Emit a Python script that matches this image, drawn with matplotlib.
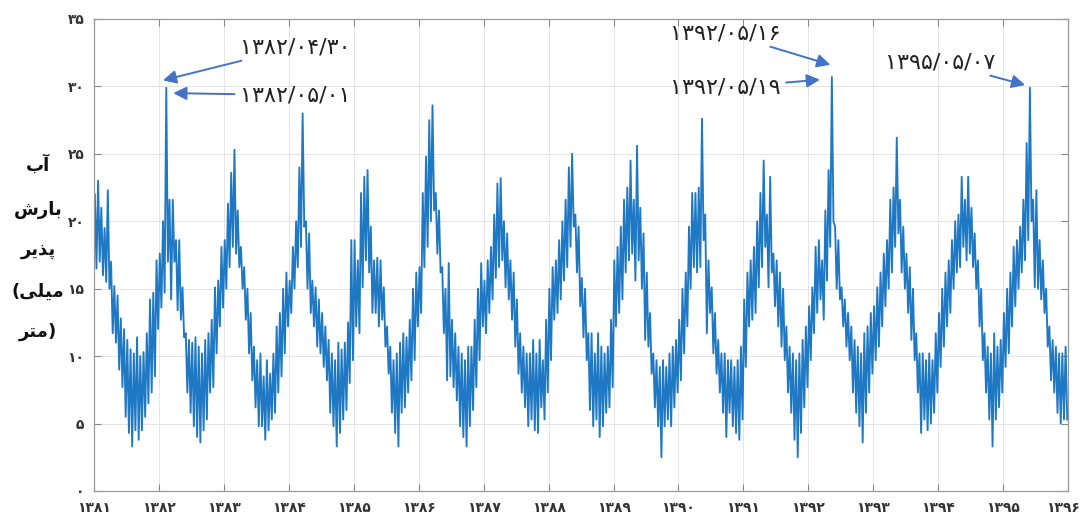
import numpy as np
import matplotlib
matplotlib.use('Agg')
import matplotlib.pyplot as plt
from matplotlib.transforms import ScaledTranslation

# Persian years on the x axis, 20 readings per year (upper / lower edge of the daily band)
years = list(range(1381, 1396))

upper = [
    [22, 23, 21, 19.5, 22.3, 17, 15.2, 14.5, 12.8, 12, 11.2, 10.5, 10.2, 11.4, 10, 10.3, 11.7, 14.2, 14.7, 17.1],      # 1381
    [17.6, 20, 29.9, 21.6, 21.6, 18.6, 18.6, 15.1, 11.7, 11.2, 11, 11.4, 10.7, 10.2, 11.2, 11.7, 12.7, 15.1, 15.6, 18.1],  # 1382
    [18.6, 21.3, 23.6, 25.3, 20.8, 18.1, 16.6, 15, 13.2, 10.7, 9.7, 10.2, 8.5, 9.7, 8.7, 10.2, 12.2, 13.2, 15, 16.2],      # 1383
    [15.6, 18.1, 20, 24, 28, 20, 19.1, 15.6, 15.1, 14.2, 13.2, 12.2, 11.2, 10.2, 9.7, 11, 10.5, 11, 12.5, 18.6],          # 1384
    [18.6, 17.1, 22.1, 23.3, 23.8, 19.6, 17.1, 17.3, 17.1, 15.1, 12.2, 10.7, 9.7, 10.2, 11, 11.7, 11.4, 12.7, 15, 16.2],  # 1385
    [16.6, 22.1, 24.8, 27.5, 28.6, 22.1, 20.8, 16.6, 15, 16.9, 12.7, 11.7, 10.7, 10.2, 9.7, 10.7, 10.7, 12.7, 15, 16.9],  # 1386
    [15.6, 17.1, 18.1, 20.5, 22.8, 23.2, 20, 19.1, 17.1, 16.2, 14.2, 11.7, 10.7, 10.2, 10.2, 11.2, 10.2, 11.2, 9.7, 12.7], # 1387
    [15, 16.6, 17.1, 18.6, 20, 21.6, 24, 25, 20.5, 19.6, 15.8, 15, 11.7, 11.7, 10.2, 11.7, 10.7, 10.2, 10.7, 12.7],       # 1388
    [17.1, 18.1, 19.6, 21.6, 22.5, 24.5, 21.6, 25.6, 21, 19.1, 16.2, 13.2, 10.2, 9.7, 9.2, 9.7, 9.2, 10.2, 10.7, 11.2],   # 1389
    [12.7, 15, 16.2, 19.6, 22.1, 22.1, 22.5, 27.6, 20.5, 17.1, 15.1, 13.2, 11.2, 10.2, 10.2, 9.7, 9.7, 9.2, 9.7, 10.7],   # 1390
    [14.2, 16.2, 17.1, 18.1, 20, 22.1, 24.5, 20.5, 23.3, 17.6, 17.1, 16.2, 15, 12.2, 10.7, 10.2, 9.7, 10.2, 11.2, 12.2],  # 1391
    [13.7, 15.1, 18.1, 18.6, 17.1, 20.8, 23.8, 30.7, 19.6, 18.6, 15.1, 14.2, 13.2, 12.2, 11.2, 10.7, 10.2, 11.7, 12.2, 13.2],  # 1392
    [13.7, 15.1, 16.2, 17.6, 18.6, 21.6, 22.5, 26.2, 21.6, 19.6, 17.6, 16.6, 15, 11.7, 10.2, 10.2, 9.7, 10.2, 9.7, 11.7], # 1393
    [13.2, 15, 16.2, 17.1, 18.6, 20, 20.5, 23.3, 21.6, 23.3, 21, 19.1, 17.1, 15, 11.7, 10.7, 10.2, 11.7, 10.7, 11.2],     # 1394
    [13.2, 15, 16.2, 18.1, 18.6, 19.6, 21.6, 25.8, 29.9, 21.6, 22.3, 18.6, 17.1, 15, 12.2, 11.2, 10.7, 10.2, 10.2, 10.7], # 1395
]

lower = [
    [16.5, 17, 16, 15.5, 15, 11.7, 11, 9, 7.7, 5.5, 4.3, 3.3, 4.5, 3.8, 4.5, 5.5, 6.5, 7.3, 8.5, 12],
    [13.6, 14.7, 17, 14.2, 17, 13.4, 12.7, 11.4, 7.3, 5.8, 4.8, 4, 3.6, 4.5, 5.3, 7.3, 7.7, 10.2, 12.2, 13.6],
    [15, 16.6, 18.1, 17.6, 16.6, 15, 12.7, 10.2, 8.2, 6.2, 4.8, 4.8, 3.8, 4.5, 5.3, 5.8, 7.3, 8.5, 10.2, 12.2],
    [13.2, 15, 16.6, 18.1, 19.6, 15, 13.2, 12.2, 10.7, 10.2, 9.2, 8.2, 5.8, 4.8, 3.3, 4.3, 5.3, 6, 8, 9.7],
    [12.2, 11.7, 15.1, 17.1, 16.2, 13.2, 13.2, 12.2, 12.7, 10.7, 8.7, 5.8, 4.3, 3.3, 5.8, 6.2, 7.3, 8.2, 9.7, 12.2],
    [13.2, 16.6, 18.1, 20, 20.8, 17.6, 16.2, 11.7, 8.2, 8.5, 7.7, 6.7, 4.8, 4, 3.3, 4.8, 6, 7.7, 9.7, 12.2],
    [11.7, 13.2, 14.2, 15.8, 16.6, 17.1, 15.1, 14.2, 12.7, 10.7, 8.7, 7.3, 6.2, 4.8, 5.3, 4.5, 4.3, 6.2, 5.3, 7.3],
    [9.7, 12.7, 13.2, 14.2, 15.6, 16.6, 18.1, 19.6, 16.2, 13.7, 11.4, 9.7, 6, 4.8, 5.3, 4, 4.8, 5.8, 6.2, 7.7],
    [12.2, 13.2, 14.2, 16.2, 17.1, 17.6, 15.6, 17.1, 15, 11.2, 10.7, 8.7, 6.2, 4.8, 2.5, 4.8, 5.3, 4.8, 6.2, 7.3],
    [8.2, 10.2, 12.2, 15, 16.6, 16.2, 16.6, 18.6, 11.7, 13.2, 10.2, 8.7, 7.3, 5.8, 4, 5.8, 4.8, 4.3, 3.8, 5.3],
    [9.2, 12.2, 12.7, 13.2, 15.1, 16.6, 18.1, 15.1, 16.2, 13.7, 12.2, 10.7, 9.7, 7.3, 5.8, 3.8, 2.5, 4.3, 6.2, 7.7],
    [9.7, 11.7, 13.2, 14.2, 12.7, 15.6, 18.1, 20, 15, 14.2, 12.2, 10.7, 9.7, 7.3, 5.8, 4.8, 3.6, 5.8, 7.3, 8.7],
    [9.7, 10.7, 12.2, 13.7, 15, 16.2, 18.1, 19.1, 16.2, 15, 13.2, 11.2, 9.7, 7.3, 4.3, 5.3, 4.5, 5, 5.8, 7.3],
    [9.2, 10.7, 12.2, 13.2, 15, 16.2, 16.6, 18.1, 17.1, 17.6, 16.6, 15, 12.2, 9.7, 7.3, 5.3, 3.3, 5.3, 6.2, 7.3],
    [9.2, 10.2, 12.2, 13.7, 15, 16.2, 17.1, 18.6, 20, 15.1, 15, 14.2, 13.2, 10.7, 8.2, 7.3, 5.8, 5, 5.3, 5.3],
]

fa_digits = '۰۱۲۳۴۵۶۷۸۹'
def fa(s):
    return ''.join(fa_digits[int(c)] if c.isdigit() else c for c in str(s))

xticks = list(range(1381, 1397))
yticks = list(range(0, 40, 5))

# annotated peaks: label, arrow tip (x, y), text position (x, y)
notes = [
    ('1382/04/30', (1382.06, 30.45), (1383.25, 32.9)),
    ('1382/05/01', (1382.22, 29.5), (1383.25, 29.35)),
    ('1392/05/16', (1392.34, 31.6), (1389.87, 33.95)),
    ('1392/05/19', (1392.18, 30.5), (1389.87, 29.9)),
    ('1395/05/07', (1395.34, 30.1), (1393.18, 31.8)),
]

# y axis label, already in visual (shaped, right-to-left) order
ylabel_lines = ['\ufe8f\ufe81',                 # آب
                '\ufeb5\ufead\ufe8e\ufe91',     # بارش
                '\ufeae\ufbfe\ufeac\ufb58',     # پذیر
                '(\ufbfd\ufee0\ufbff\ufee3',    # (میلی
                '\ufeae\ufe98\ufee3)']          # متر)

up = np.array(upper).ravel()
lo = np.array(lower).ravel()
n = len(up)
pos = np.arange(n) / 20.0 + 1381
vals = np.column_stack([up, lo]).ravel()
xs = np.column_stack([pos + 0.0125, pos + 0.0375]).ravel()

fig = plt.figure(figsize=(10.82, 5.21), dpi=100)
ax = fig.add_axes([0.0869, 0.0576, 0.9002, 0.906])

ax.plot(xs, vals, color='#1f78c4', lw=1.35)

ax.set_xlim(1381, 1396)
ax.set_ylim(0, 35)
ax.set_xticks(xticks)
ax.set_xticklabels([fa(t) for t in xticks], fontsize=10, fontweight='bold', color='#333333')
ax.set_yticks(yticks)
ax.set_yticklabels([fa(t) for t in yticks], fontsize=10, fontweight='bold', color='#333333')
ax.tick_params(direction='in', length=5, top=True, right=True, color='#888888', pad=7)
ax.grid(True, color='#e4e4e4', lw=0.7)
ax.set_axisbelow(True)
for s in ax.spines.values():
    s.set_color('#999999')
    s.set_linewidth(0.9)

# keep the last year label inside the picture
last = ax.get_xticklabels()[-1]
last.set_transform(last.get_transform() + ScaledTranslation(-4 / 72, 0, fig.dpi_scale_trans))

for label, tip, txt in notes:
    ax.annotate(fa(label), xy=tip, xytext=txt, fontsize=16, color='#222222',
                ha='left', va='center',
                arrowprops=dict(arrowstyle='-|>', color='#4472c4', lw=1.4,
                                mutation_scale=20, shrinkA=2, shrinkB=0))

ys = [165, 210, 250, 292, 332]
for line, ypx in zip(ylabel_lines, ys):
    fig.text(38 / 1082, 1 - ypx / 521, line, ha='center', va='center',
             fontsize=13, fontweight='bold', color='#111111')

fig.savefig('out.png', dpi=100)
